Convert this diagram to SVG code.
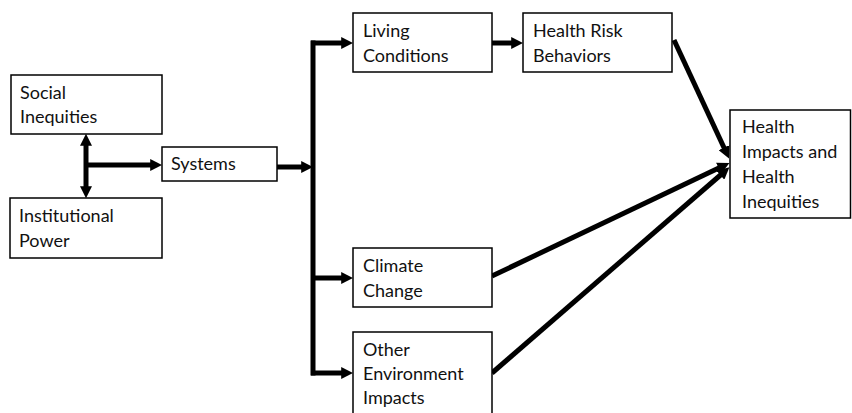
<svg xmlns="http://www.w3.org/2000/svg" width="852" height="413" viewBox="0 0 852 413">
  <style>
    .box { fill: #ffffff; stroke: #000000; stroke-width: 1.5; }
    .lbl { font-family: Lato, "Liberation Sans", sans-serif; font-size: 18px; fill: #111111; }
    .wire { fill: none; stroke: #000000; stroke-width: 5; stroke-linecap: butt; }
  </style>
  <defs>
    <marker id="head" viewBox="0 0 10 10" refX="4" refY="5" markerWidth="12" markerHeight="12" markerUnits="userSpaceOnUse" orient="auto-start-reverse">
      <path d="M0,0 L10,5 L0,10 z" fill="#000000"/>
    </marker>
  </defs>

  <rect width="852" height="413" fill="#ffffff"/>

  <!-- connectors -->
  <g id="connectors">
    <!-- two-way link between the left pair of boxes -->
    <line class="wire" x1="86" y1="141" x2="86" y2="191" marker-start="url(#head)" marker-end="url(#head)"/>
    <line class="wire" x1="86" y1="165" x2="155" y2="165" marker-end="url(#head)"/>
    <line class="wire" x1="277" y1="167" x2="306" y2="167" marker-end="url(#head)"/>
    <!-- vertical trunk -->
    <line class="wire" x1="313" y1="40.5" x2="313" y2="375.5"/>
    <line class="wire" x1="311" y1="43" x2="346" y2="43" marker-end="url(#head)"/>
    <line class="wire" x1="313" y1="278" x2="346" y2="278" marker-end="url(#head)"/>
    <line class="wire" x1="311" y1="373" x2="346" y2="373" marker-end="url(#head)"/>
    <line class="wire" x1="492" y1="43" x2="516" y2="43" marker-end="url(#head)"/>
    <!-- converging links into the outcome box -->
    <line class="wire" x1="674" y1="40" x2="726" y2="152" marker-end="url(#head)"/>
    <line class="wire" x1="492" y1="276" x2="723" y2="166" marker-end="url(#head)"/>
    <line class="wire" x1="492" y1="373" x2="724" y2="172" marker-end="url(#head)"/>
  </g>

  <g id="social-inequities">
    <rect class="box" x="11" y="75" width="151" height="59"/>
    <text class="lbl" x="20" y="99">Social</text>
    <text class="lbl" x="20" y="123">Inequities</text>
  </g>

  <g id="institutional-power">
    <rect class="box" x="10" y="198" width="152" height="60"/>
    <text class="lbl" x="19" y="222">Institutional</text>
    <text class="lbl" x="19" y="247">Power</text>
  </g>

  <g id="systems">
    <rect class="box" x="162" y="147" width="115" height="34"/>
    <text class="lbl" x="171" y="170">Systems</text>
  </g>

  <g id="living-conditions">
    <rect class="box" x="353" y="13" width="139" height="59"/>
    <text class="lbl" x="363" y="37">Living</text>
    <text class="lbl" x="363" y="62">Conditions</text>
  </g>

  <g id="health-risk-behaviors">
    <rect class="box" x="523" y="13" width="149" height="59"/>
    <text class="lbl" x="533" y="37">Health Risk</text>
    <text class="lbl" x="533" y="62">Behaviors</text>
  </g>

  <g id="climate-change">
    <rect class="box" x="353" y="248" width="139" height="59"/>
    <text class="lbl" x="363" y="272">Climate</text>
    <text class="lbl" x="363" y="297">Change</text>
  </g>

  <g id="other-environment-impacts">
    <rect class="box" x="353" y="332" width="139" height="90"/>
    <text class="lbl" x="363" y="356">Other</text>
    <text class="lbl" x="363" y="380">Environment</text>
    <text class="lbl" x="363" y="404">Impacts</text>
  </g>

  <g id="health-impacts">
    <rect class="box" x="730" y="110" width="120.5" height="108"/>
    <text class="lbl" x="742" y="133">Health</text>
    <text class="lbl" x="742" y="158">Impacts and</text>
    <text class="lbl" x="742" y="183">Health</text>
    <text class="lbl" x="742" y="208">Inequities</text>
  </g>
</svg>
